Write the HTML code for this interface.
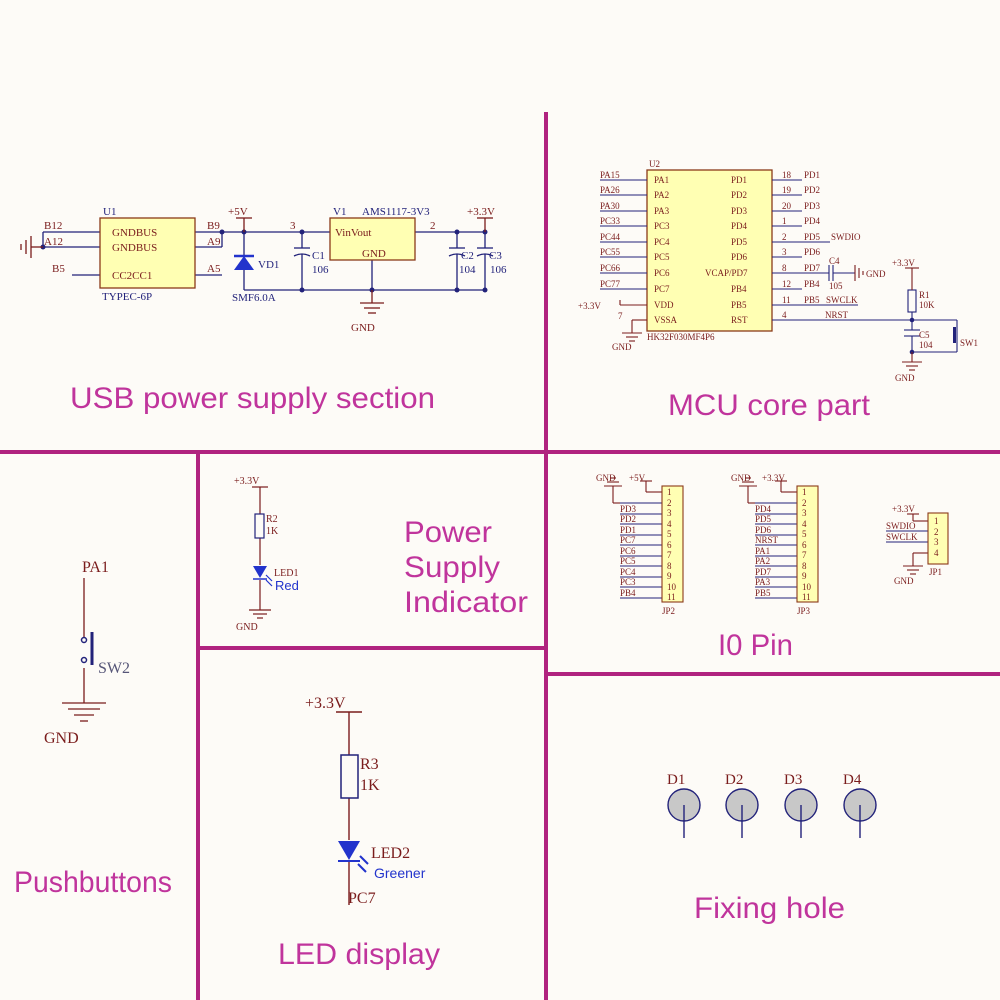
<!DOCTYPE html>
<html><head><meta charset="utf-8"><style>
html,body{margin:0;padding:0;background:#fdfbf7;}
svg{display:block}
.s{font-family:"Liberation Serif",serif;fill:#7a1c1c;}
.b{font-family:"Liberation Serif",serif;fill:#22227a;}
.t{font-family:"Liberation Sans",sans-serif;fill:#c0349c;font-size:30px;}
</style></head><body>
<svg width="1000" height="1000" viewBox="0 0 1000 1000" xmlns="http://www.w3.org/2000/svg">
<rect width="1000" height="1000" fill="#fdfbf7"/>
<g stroke="#b0237f" stroke-width="4" fill="none">
<line x1="546" y1="112" x2="546" y2="1000"/>
<line x1="0" y1="452" x2="1000" y2="452"/>
<line x1="198" y1="452" x2="198" y2="1000"/>
<line x1="198" y1="648" x2="546" y2="648"/>
<line x1="546" y1="674" x2="1000" y2="674"/>
</g>
<text class="t" x="70" y="408" textLength="365" lengthAdjust="spacingAndGlyphs">USB power supply section</text>
<text class="t" x="668" y="415" textLength="202" lengthAdjust="spacingAndGlyphs">MCU core part</text>
<text class="t" x="404" y="542" textLength="88" lengthAdjust="spacingAndGlyphs">Power</text>
<text class="t" x="404" y="577" textLength="96" lengthAdjust="spacingAndGlyphs">Supply</text>
<text class="t" x="404" y="612" textLength="124" lengthAdjust="spacingAndGlyphs">Indicator</text>
<text class="t" x="718" y="655" textLength="75" lengthAdjust="spacingAndGlyphs">I0 Pin</text>
<text class="t" x="14" y="892" textLength="158" lengthAdjust="spacingAndGlyphs">Pushbuttons</text>
<text class="t" x="278" y="964" textLength="162" lengthAdjust="spacingAndGlyphs">LED display</text>
<text class="t" x="694" y="918" textLength="151" lengthAdjust="spacingAndGlyphs">Fixing hole</text>

<g stroke="#22227a" stroke-width="1.3" fill="none">
<line x1="43" y1="232" x2="100" y2="232"/><line x1="43" y1="247" x2="100" y2="247"/>
<line x1="43" y1="232" x2="43" y2="247"/>
<line x1="72" y1="275" x2="100" y2="275"/>
<line x1="195" y1="232" x2="330" y2="232"/><line x1="195" y1="247" x2="222" y2="247"/><line x1="222" y1="232" x2="222" y2="247"/>
<line x1="195" y1="275" x2="222" y2="275"/>
<line x1="244" y1="232" x2="244" y2="290"/>
<line x1="244" y1="290" x2="485" y2="290"/>
<line x1="302" y1="232" x2="302" y2="248"/><line x1="302" y1="254" x2="302" y2="290"/>
<line x1="294" y1="248" x2="310" y2="248"/><path d="M294 256 Q302 252 310 256"/>
<line x1="372" y1="260" x2="372" y2="290"/>
<line x1="415" y1="232" x2="485" y2="232"/>
<line x1="457" y1="232" x2="457" y2="248"/><line x1="457" y1="254" x2="457" y2="290"/>
<line x1="449" y1="248" x2="465" y2="248"/><path d="M449 256 Q457 252 465 256"/>
<line x1="485" y1="232" x2="485" y2="248"/><line x1="485" y1="254" x2="485" y2="290"/>
<line x1="477" y1="248" x2="493" y2="248"/><path d="M477 256 Q485 252 493 256"/>
</g>
<g fill="#22227a">
<circle cx="43" cy="247" r="2.5"/><circle cx="222" cy="232" r="2.5"/><circle cx="244" cy="232" r="2.5"/>
<circle cx="302" cy="232" r="2.5"/><circle cx="302" cy="290" r="2.5"/><circle cx="372" cy="290" r="2.5"/>
<circle cx="457" cy="232" r="2.5"/><circle cx="485" cy="232" r="2.5"/><circle cx="457" cy="290" r="2.5"/><circle cx="485" cy="290" r="2.5"/>
</g>
<polygon points="234,270 254,270 244,256" fill="#2233cc"/><line x1="234" y1="256" x2="254" y2="256" stroke="#2233cc" stroke-width="2.5"/>
<g stroke="#7a1c1c" stroke-width="1.3" fill="none">
<line x1="31" y1="247" x2="43" y2="247"/><line x1="31" y1="236" x2="31" y2="258"/><line x1="26" y1="240" x2="26" y2="254"/><line x1="21" y1="244" x2="21" y2="250"/>
<line x1="244" y1="218" x2="244" y2="232"/><line x1="236" y1="218" x2="252" y2="218"/>
<line x1="485" y1="218" x2="485" y2="232"/><line x1="477" y1="218" x2="493" y2="218"/>
<line x1="372" y1="290" x2="372" y2="303"/><line x1="360" y1="303" x2="384" y2="303"/><line x1="364" y1="308" x2="380" y2="308"/><line x1="368" y1="313" x2="376" y2="313"/>
</g>
<rect x="100" y="218" width="95" height="70" fill="#ffffb3" stroke="#8b3a1a" stroke-width="1.3"/>
<rect x="330" y="218" width="85" height="42" fill="#ffffb3" stroke="#8b3a1a" stroke-width="1.3"/>
<g class="s" font-size="11">
<text x="103" y="215" class="b">U1</text>
<text x="44" y="229">B12</text><text x="44" y="245">A12</text><text x="52" y="272">B5</text>
<text x="112" y="236">GNDBUS</text><text x="112" y="251">GNDBUS</text><text x="112" y="279">CC2CC1</text>
<text x="102" y="300" class="b">TYPEC-6P</text>
<text x="207" y="229">B9</text><text x="207" y="245">A9</text><text x="207" y="272">A5</text>
<text x="228" y="215">+5V</text><text x="258" y="268" class="b">VD1</text>
<text x="232" y="301" class="b">SMF6.0A</text>
<text x="290" y="229">3</text><text x="312" y="259" class="b">C1</text><text x="312" y="273" class="b">106</text>
<text x="333" y="215" class="b">V1</text><text x="362" y="215" class="b">AMS1117-3V3</text>
<text x="335" y="236">VinVout</text><text x="362" y="257">GND</text>
<text x="430" y="229">2</text><text x="467" y="215">+3.3V</text>
<text x="461" y="259" class="b">C2</text><text x="489" y="259" class="b">C3</text>
<text x="459" y="273" class="b">104</text><text x="490" y="273" class="b">106</text>
<text x="351" y="331">GND</text>
</g>

<rect x="647" y="170" width="125" height="161" fill="#ffffb3" stroke="#8b3a1a" stroke-width="1.3"/>
<g stroke="#22227a" stroke-width="1.1">
<line x1="600" y1="180" x2="647" y2="180"/><line x1="600" y1="195" x2="647" y2="195"/><line x1="600" y1="211" x2="647" y2="211"/>
<line x1="600" y1="226" x2="647" y2="226"/><line x1="600" y1="242" x2="647" y2="242"/><line x1="600" y1="257" x2="647" y2="257"/>
<line x1="600" y1="273" x2="647" y2="273"/><line x1="600" y1="289" x2="647" y2="289"/>
<line x1="772" y1="180" x2="802" y2="180"/><line x1="772" y1="195" x2="802" y2="195"/><line x1="772" y1="211" x2="802" y2="211"/>
<line x1="772" y1="226" x2="802" y2="226"/><line x1="772" y1="242" x2="830" y2="242"/><line x1="772" y1="257" x2="802" y2="257"/>
<line x1="772" y1="273" x2="829" y2="273"/><line x1="772" y1="289" x2="802" y2="289"/><line x1="772" y1="305" x2="858" y2="305"/>
<line x1="772" y1="320" x2="957" y2="320"/>
<line x1="912" y1="312" x2="912" y2="330"/><line x1="912" y1="336" x2="912" y2="352"/><line x1="912" y1="352" x2="957" y2="352"/>
<line x1="957" y1="320" x2="957" y2="352"/>
<line x1="904" y1="330" x2="920" y2="330"/><line x1="904" y1="336" x2="920" y2="336"/>
<line x1="829" y1="265" x2="829" y2="281"/><line x1="833" y1="265" x2="833" y2="281"/><line x1="833" y1="273" x2="855" y2="273"/>
</g>
<rect x="908" y="290" width="8" height="22" fill="none" stroke="#22227a" stroke-width="1.1"/>
<rect x="953" y="327" width="3" height="16" fill="#22227a"/>
<g fill="#22227a"><circle cx="912" cy="320" r="2.3"/><circle cx="912" cy="352" r="2.3"/></g>
<g stroke="#7a1c1c" stroke-width="1.1" fill="none">
<line x1="620" y1="305" x2="647" y2="305"/><line x1="620" y1="300" x2="620" y2="305"/>
<line x1="647" y1="320" x2="632" y2="320"/><line x1="632" y1="320" x2="632" y2="333"/>
<line x1="622" y1="333" x2="642" y2="333"/><line x1="626" y1="337" x2="638" y2="337"/><line x1="629" y1="341" x2="635" y2="341"/>
<line x1="855" y1="265" x2="855" y2="281"/><line x1="859" y1="268" x2="859" y2="278"/><line x1="863" y1="271" x2="863" y2="275"/>
<line x1="912" y1="268" x2="912" y2="290"/><line x1="905" y1="268" x2="919" y2="268"/>
<line x1="912" y1="352" x2="912" y2="362"/><line x1="902" y1="362" x2="922" y2="362"/><line x1="906" y1="366" x2="918" y2="366"/><line x1="909" y1="370" x2="915" y2="370"/>
</g>
<g class="s" font-size="9">
<text x="649" y="167">U2</text>
<text x="600" y="178">PA15</text><text x="600" y="193">PA26</text><text x="600" y="209">PA30</text><text x="600" y="224">PC33</text>
<text x="600" y="240">PC44</text><text x="600" y="255">PC55</text><text x="600" y="271">PC66</text><text x="600" y="287">PC77</text>
<text x="578" y="309">+3.3V</text><text x="618" y="319">7</text>
<text x="654" y="183">PA1</text><text x="654" y="198">PA2</text><text x="654" y="214">PA3</text><text x="654" y="229">PC3</text>
<text x="654" y="245">PC4</text><text x="654" y="260">PC5</text><text x="654" y="276">PC6</text><text x="654" y="292">PC7</text>
<text x="654" y="308">VDD</text><text x="654" y="323">VSSA</text>
<text x="731" y="183">PD1</text><text x="731" y="198">PD2</text><text x="731" y="214">PD3</text><text x="731" y="229">PD4</text>
<text x="731" y="245">PD5</text><text x="731" y="260">PD6</text><text x="705" y="276">VCAP/PD7</text><text x="731" y="292">PB4</text>
<text x="731" y="308">PB5</text><text x="731" y="323">RST</text>
<text x="782" y="178">18</text><text x="782" y="193">19</text><text x="782" y="209">20</text><text x="782" y="224">1</text>
<text x="782" y="240">2</text><text x="782" y="255">3</text><text x="782" y="271">8</text><text x="782" y="287">12</text>
<text x="782" y="303">11</text><text x="782" y="318">4</text>
<text x="804" y="178">PD1</text><text x="804" y="193">PD2</text><text x="804" y="209">PD3</text><text x="804" y="224">PD4</text>
<text x="804" y="240">PD5</text><text x="831" y="240">SWDIO</text><text x="804" y="255">PD6</text><text x="804" y="271">PD7</text>
<text x="804" y="287">PB4</text><text x="804" y="303">PB5</text><text x="826" y="303">SWCLK</text>
<text x="825" y="318">NRST</text>
<text x="829" y="264">C4</text><text x="829" y="289">105</text><text x="866" y="277">GND</text>
<text x="647" y="340">HK32F030MF4P6</text><text x="612" y="350">GND</text>
<text x="892" y="266">+3.3V</text><text x="919" y="298">R1</text><text x="919" y="308">10K</text>
<text x="919" y="338">C5</text><text x="919" y="348">104</text><text x="960" y="346">SW1</text>
<text x="895" y="381">GND</text>
</g>

<g stroke="#22227a" stroke-width="1.1">
<line x1="620" y1="503" x2="662" y2="503"/>
<line x1="620" y1="514" x2="662" y2="514"/><line x1="620" y1="524" x2="662" y2="524"/><line x1="620" y1="535" x2="662" y2="535"/>
<line x1="620" y1="545" x2="662" y2="545"/><line x1="620" y1="556" x2="662" y2="556"/><line x1="620" y1="566" x2="662" y2="566"/>
<line x1="620" y1="577" x2="662" y2="577"/><line x1="620" y1="587" x2="662" y2="587"/><line x1="620" y1="598" x2="662" y2="598"/>
<line x1="755" y1="503" x2="797" y2="503"/>
<line x1="755" y1="514" x2="797" y2="514"/><line x1="755" y1="524" x2="797" y2="524"/><line x1="755" y1="535" x2="797" y2="535"/>
<line x1="755" y1="545" x2="797" y2="545"/><line x1="755" y1="556" x2="797" y2="556"/><line x1="755" y1="566" x2="797" y2="566"/>
<line x1="755" y1="577" x2="797" y2="577"/><line x1="755" y1="587" x2="797" y2="587"/><line x1="755" y1="598" x2="797" y2="598"/>
<line x1="886" y1="531" x2="928" y2="531"/><line x1="886" y1="542" x2="928" y2="542"/>
</g>
<g stroke="#7a1c1c" stroke-width="1.1" fill="none">
<line x1="613" y1="503" x2="620" y2="503"/><line x1="613" y1="486" x2="613" y2="503"/><line x1="604" y1="486" x2="622" y2="486"/><line x1="607" y1="482" x2="619" y2="482"/><line x1="610" y1="478" x2="616" y2="478"/>
<line x1="646" y1="481" x2="646" y2="492"/><line x1="646" y1="492" x2="662" y2="492"/><line x1="640" y1="481" x2="652" y2="481"/>
<line x1="748" y1="503" x2="755" y2="503"/><line x1="748" y1="486" x2="748" y2="503"/><line x1="739" y1="486" x2="757" y2="486"/><line x1="742" y1="482" x2="754" y2="482"/><line x1="745" y1="478" x2="751" y2="478"/>
<line x1="781" y1="481" x2="781" y2="492"/><line x1="781" y1="492" x2="797" y2="492"/><line x1="775" y1="481" x2="787" y2="481"/>
<line x1="913" y1="514" x2="913" y2="521"/><line x1="913" y1="521" x2="928" y2="521"/><line x1="907" y1="514" x2="919" y2="514"/>
<line x1="913" y1="553" x2="928" y2="553"/><line x1="913" y1="553" x2="913" y2="566"/><line x1="903" y1="566" x2="923" y2="566"/><line x1="907" y1="570" x2="919" y2="570"/><line x1="910" y1="574" x2="916" y2="574"/>
</g>
<rect x="662" y="486" width="21" height="116" fill="#ffffb3" stroke="#8b3a1a" stroke-width="1.1"/>
<rect x="797" y="486" width="21" height="116" fill="#ffffb3" stroke="#8b3a1a" stroke-width="1.1"/>
<rect x="928" y="513" width="20" height="51" fill="#ffffb3" stroke="#8b3a1a" stroke-width="1.1"/>
<g class="s" font-size="9">
<text x="596" y="481">GND</text><text x="629" y="481">+5V</text>
<text x="731" y="481">GND</text><text x="762" y="481">+3.3V</text>
<text x="620" y="512">PD3</text><text x="620" y="522">PD2</text><text x="620" y="533">PD1</text><text x="620" y="543">PC7</text><text x="620" y="554">PC6</text>
<text x="620" y="564">PC5</text><text x="620" y="575">PC4</text><text x="620" y="585">PC3</text><text x="620" y="596">PB4</text>
<text x="755" y="512">PD4</text><text x="755" y="522">PD5</text><text x="755" y="533">PD6</text><text x="755" y="543">NRST</text><text x="755" y="554">PA1</text>
<text x="755" y="564">PA2</text><text x="755" y="575">PD7</text><text x="755" y="585">PA3</text><text x="755" y="596">PB5</text>
<text x="667" y="495">1</text><text x="667" y="506">2</text><text x="667" y="516">3</text><text x="667" y="527">4</text><text x="667" y="537">5</text><text x="667" y="548">6</text><text x="667" y="558">7</text><text x="667" y="569">8</text><text x="667" y="579">9</text><text x="667" y="590">10</text><text x="667" y="600">11</text>
<text x="802" y="495">1</text><text x="802" y="506">2</text><text x="802" y="516">3</text><text x="802" y="527">4</text><text x="802" y="537">5</text><text x="802" y="548">6</text><text x="802" y="558">7</text><text x="802" y="569">8</text><text x="802" y="579">9</text><text x="802" y="590">10</text><text x="802" y="600">11</text>
<text x="934" y="524">1</text><text x="934" y="535">2</text><text x="934" y="545">3</text><text x="934" y="556">4</text>
<text x="662" y="614">JP2</text><text x="797" y="614">JP3</text>
<text x="892" y="512">+3.3V</text><text x="886" y="529">SWDIO</text><text x="886" y="540">SWCLK</text>
<text x="894" y="584">GND</text><text x="929" y="575">JP1</text>
</g>

<g stroke="#7a1c1c" stroke-width="1.3" fill="none">
<line x1="84" y1="578" x2="84" y2="638"/><line x1="84" y1="668" x2="84" y2="703"/>
<line x1="62" y1="703" x2="106" y2="703"/><line x1="68" y1="709" x2="100" y2="709"/><line x1="74" y1="715" x2="94" y2="715"/><line x1="80" y1="721" x2="88" y2="721"/>
</g>
<g stroke="#22227a" stroke-width="1.5" fill="none">
<circle cx="84" cy="640" r="2.5"/><circle cx="84" cy="660" r="2.5"/><line x1="92" y1="632" x2="92" y2="665" stroke-width="3"/>
</g>
<g class="s" font-size="16"><text x="82" y="572">PA1</text><text x="44" y="743">GND</text></g>
<text class="s" font-size="16" x="98" y="673" style="fill:#555577">SW2</text>

<g stroke="#7a1c1c" stroke-width="1.2" fill="none">
<line x1="260" y1="487" x2="260" y2="514"/><line x1="252" y1="487" x2="268" y2="487"/>
<line x1="260" y1="538" x2="260" y2="565"/><line x1="260" y1="580" x2="260" y2="610"/>
<line x1="249" y1="610" x2="271" y2="610"/><line x1="253" y1="614" x2="267" y2="614"/><line x1="257" y1="618" x2="263" y2="618"/>
</g>
<rect x="255" y="514" width="9" height="24" fill="none" stroke="#22227a" stroke-width="1.2"/>
<polygon points="253,566 267,566 260,578" fill="#2233cc"/><line x1="253" y1="579" x2="267" y2="579" stroke="#2233cc" stroke-width="1.5"/>
<g stroke="#2233cc" stroke-width="1.2"><line x1="266" y1="575" x2="272" y2="581"/><line x1="266" y1="580" x2="272" y2="586"/></g>
<g class="s" font-size="10"><text x="234" y="484">+3.3V</text><text x="266" y="522">R2</text><text x="266" y="534">1K</text><text x="274" y="576">LED1</text><text x="236" y="630">GND</text></g>
<text x="275" y="590" font-family="Liberation Sans,sans-serif" font-size="13" fill="#2233cc">Red</text>

<g stroke="#7a1c1c" stroke-width="1.4" fill="none">
<line x1="349" y1="712" x2="349" y2="755"/><line x1="336" y1="712" x2="362" y2="712"/>
<line x1="349" y1="798" x2="349" y2="840"/><line x1="349" y1="862" x2="349" y2="905"/>
</g>
<rect x="341" y="755" width="17" height="43" fill="none" stroke="#22227a" stroke-width="1.5"/>
<polygon points="338,841 360,841 349,860" fill="#2233cc"/><line x1="338" y1="861" x2="360" y2="861" stroke="#2233cc" stroke-width="2"/>
<g stroke="#2233cc" stroke-width="2"><line x1="360" y1="856" x2="368" y2="864"/><line x1="358" y1="864" x2="366" y2="872"/></g>
<g class="s" font-size="16"><text x="305" y="708">+3.3V</text><text x="360" y="769">R3</text><text x="360" y="790">1K</text><text x="371" y="858">LED2</text><text x="348" y="903">PC7</text></g>
<text x="374" y="878" font-family="Liberation Sans,sans-serif" font-size="14" fill="#2233cc">Greener</text>

<g stroke="#22227a" stroke-width="1.4" fill="#c8c8c8">
<circle cx="684" cy="805" r="16"/><circle cx="742" cy="805" r="16"/><circle cx="801" cy="805" r="16"/><circle cx="860" cy="805" r="16"/>
<line x1="684" y1="805" x2="684" y2="838"/><line x1="742" y1="805" x2="742" y2="838"/><line x1="801" y1="805" x2="801" y2="838"/><line x1="860" y1="805" x2="860" y2="838"/>
</g>
<g class="s" font-size="15"><text x="667" y="784">D1</text><text x="725" y="784">D2</text><text x="784" y="784">D3</text><text x="843" y="784">D4</text></g>
</svg>
</body></html>
